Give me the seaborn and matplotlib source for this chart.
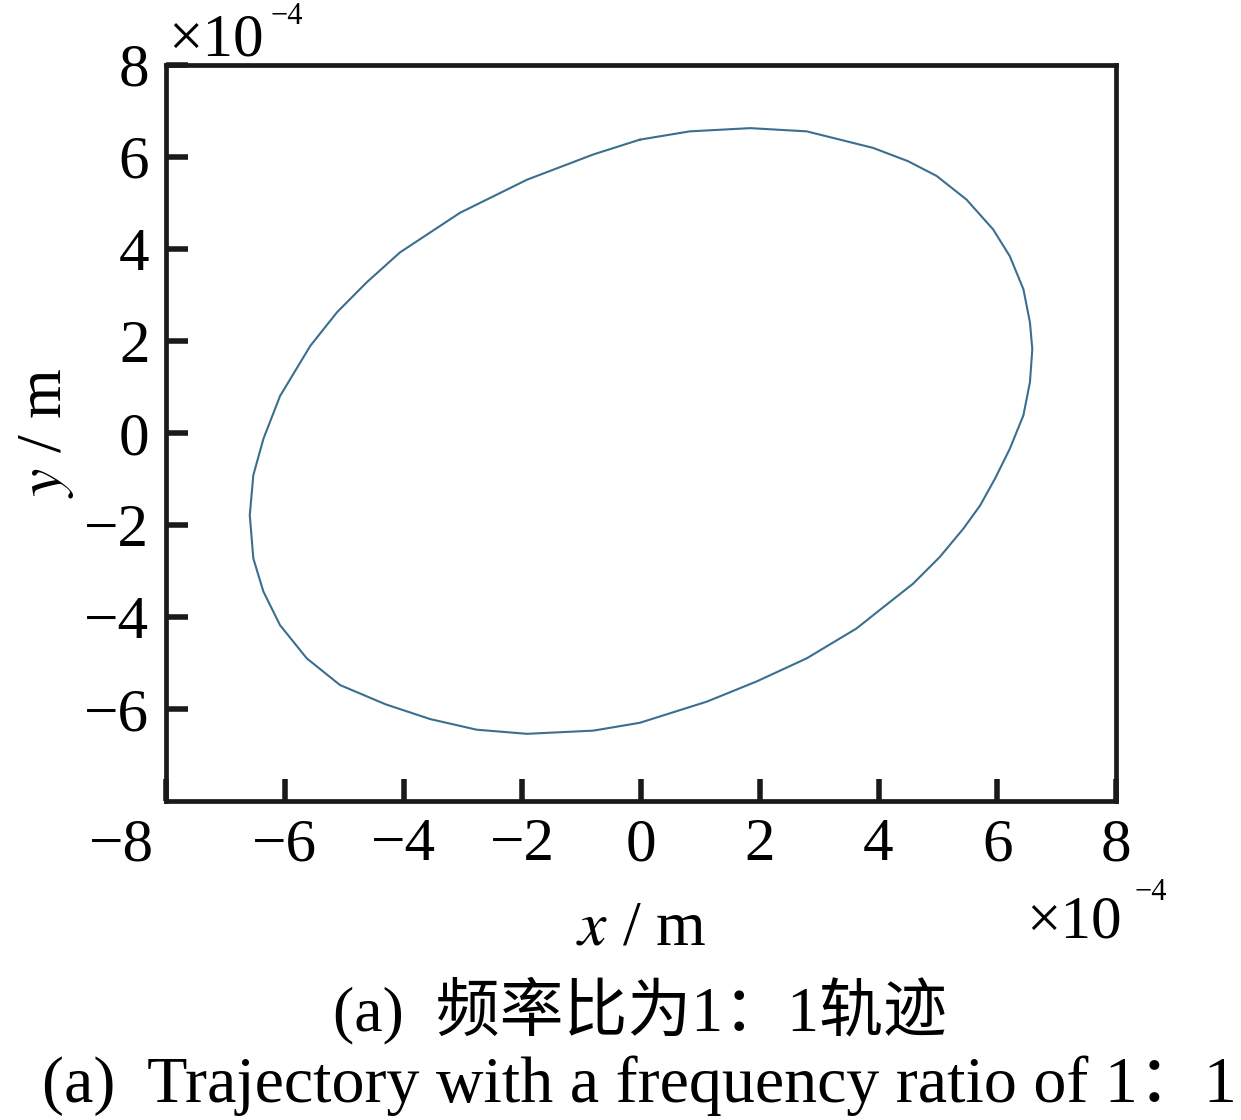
import matplotlib
matplotlib.use("Agg")
import matplotlib.pyplot as plt
import matplotlib.transforms as mtrans
import pandas as pd
import seaborn as sns

# trajectory points (units of 1e-4 m), clockwise from the top
x_pts = [-0.02, 0.82, 1.84, 2.79, 3.91, 4.50, 4.98, 5.48, 5.93, 6.21, 6.44, 6.55, 6.59,
         6.55, 6.44, 6.21, 5.96, 5.71, 5.43, 5.03, 4.58, 4.02, 3.63, 2.79, 1.95, 1.11,
         -0.02, -0.80, -1.92, -2.77, -3.55, -4.30, -5.07, -5.63, -6.08, -6.36, -6.53,
         -6.59, -6.53, -6.36, -6.08, -5.57, -5.12, -4.62, -4.06, -3.05, -1.92, -0.80, -0.02]
y_pts = [6.37, 6.55, 6.62, 6.55, 6.19, 5.90, 5.58, 5.07, 4.42, 3.84, 3.12, 2.40, 1.82,
         1.10, 0.38, -0.35, -1.00, -1.58, -2.08, -2.70, -3.28, -3.85, -4.25, -4.90, -5.40, -5.84,
         -6.30, -6.47, -6.54, -6.45, -6.22, -5.90, -5.48, -4.90, -4.18, -3.45, -2.73,
         -1.79, -0.92, -0.13, 0.80, 1.89, 2.62, 3.27, 3.92, 4.78, 5.50, 6.05, 6.37]
x_ticks = [-8, -6, -4, -2, 0, 2, 4, 6, 8]
y_ticks = [-6, -4, -2, 0, 2, 4, 6, 8]

caption_cn = "(a)  频率比为1：1轨迹"
caption_en = "(a)  Trajectory with a frequency ratio of 1：1"

df = pd.DataFrame({"x": x_pts, "y": y_pts})

sns.set_style("ticks")
plt.rcParams["font.family"] = ["Liberation Serif", "Noto Sans CJK SC"]
plt.rcParams["mathtext.fontset"] = "stix"
plt.rcParams["axes.unicode_minus"] = True
plt.rcParams["text.color"] = "black"
plt.rcParams["xtick.color"] = "black"
plt.rcParams["ytick.color"] = "black"
plt.rcParams["axes.labelcolor"] = "black"

fig = plt.figure(figsize=(12.41, 11.2), dpi=100)
ax = fig.add_axes([0.1338, 0.2848, 0.7655, 0.6575])

sns.lineplot(data=df, x="x", y="y", sort=False, estimator=None, color="#3b6e8f",
             linewidth=1.5, ax=ax)

ax.set_xlim(-8, 8)
ax.set_ylim(-8, 8)
ax.set_xticks(x_ticks)
ax.set_yticks(y_ticks)
ax.tick_params(axis="both", direction="in", length=16, width=4, labelsize=44,
               top=False, right=False, pad=12, color="#1a1a1a")
for s in ax.spines.values():
    s.set_linewidth(3.4)
    s.set_color("#1a1a1a")

# MATLAB pushes the first x label to the left of the corner
lab0 = ax.get_xticklabels()[0]
lab0.set_transform(lab0.get_transform() +
                   mtrans.ScaledTranslation(-0.45, 0, fig.dpi_scale_trans))

ax.set_xlabel(r"$x$ / m", fontsize=46, labelpad=20)
ax.set_ylabel(r"$y$ / m", fontsize=46, labelpad=6)

# scale factors
fig.text(168 / 1241, 1 - 55 / 1120, "×10", fontsize=44, ha="left", va="baseline")
fig.text(270 / 1241, 1 - 24 / 1120, "−4", fontsize=22, ha="left", va="baseline")
fig.text(1026 / 1241, 1 - 937 / 1120, "×10", fontsize=44, ha="left", va="baseline")
fig.text(1134 / 1241, 1 - 900 / 1120, "−4", fontsize=22, ha="left", va="baseline")

fig.text(0.516, 1 - 1030 / 1120, caption_cn, fontsize=46, ha="center", va="baseline")
fig.text(0.515, 1 - 1102 / 1120, caption_en, fontsize=47.5, ha="center", va="baseline")

plt.savefig("out.png", dpi=100)
